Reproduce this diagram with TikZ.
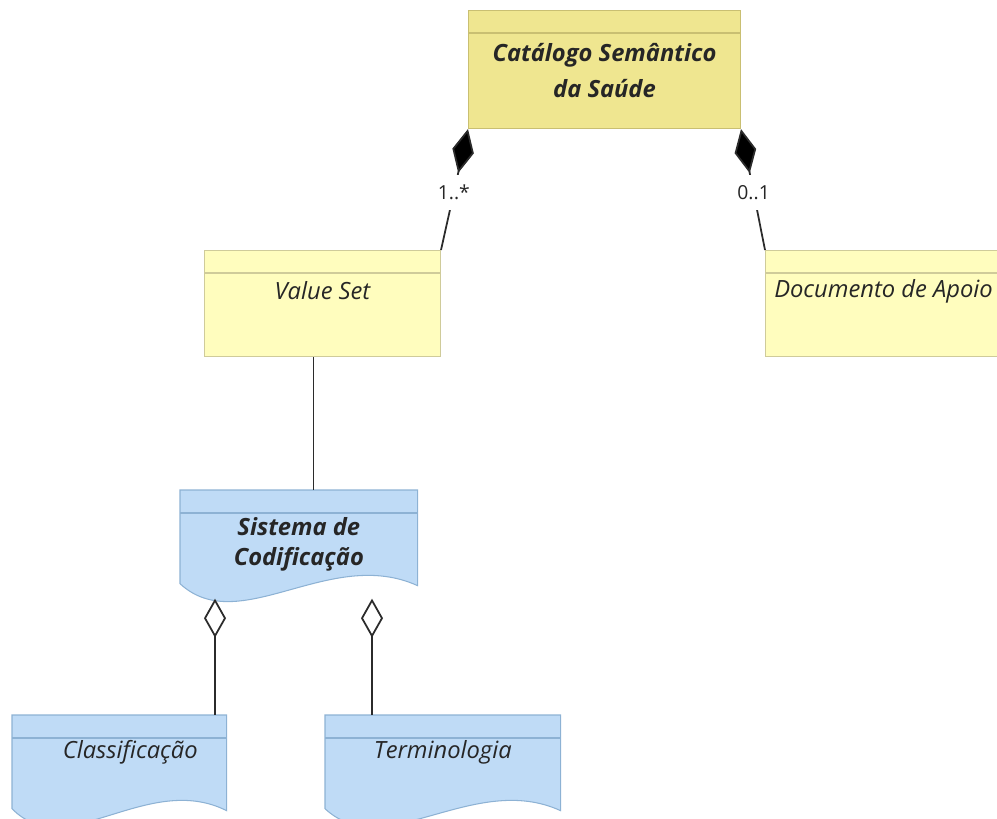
\documentclass[tikz,border=0pt]{standalone}
\usepackage{fontspec}
\setmainfont{Open Sans}
\usepackage{tikz}
\usetikzlibrary{arrows.meta,calc}

\definecolor{catfill}{HTML}{EFE690}
\definecolor{catline}{HTML}{C9BF72}
\definecolor{yfill}{HTML}{FFFDBE}
\definecolor{yline}{HTML}{CFCB9A}
\definecolor{bfill}{HTML}{BFDBF6}
\definecolor{bline}{HTML}{8DB2D4}
\definecolor{connline}{HTML}{2B2B2B}
\definecolor{titletext}{HTML}{262626}

\newcommand{\wavebox}[1]{%
  \filldraw[draw=bline, fill=bfill, line width=0.6pt]
    (#1.north west) -- (#1.north east) -- ($(#1.south east)+(0,2)$)
    .. controls ($(#1.south west)!0.63!(#1.south east)+(0,-38)$)
    and ($(#1.south west)!0.25!(#1.south east)+(0,55)$) .. (#1.south west) -- cycle;
  \draw[draw=bline, line width=0.6pt] ($(#1.north west)+(0,23)$) -- ($(#1.north east)+(0,23)$);
}

\begin{document}
\begin{tikzpicture}[x=0.02cm, y=-0.02cm,
        ybox/.style={draw=yline, fill=yfill, line width=0.6pt, anchor=north west, inner sep=0},
        wbox/.style={anchor=north west, inner sep=0, minimum height=1.86cm},
        title/.style={font=\fontsize{13.5}{20.5}\selectfont\itshape, text=titletext, align=center},
        btitle/.style={title, font=\fontsize{13.5}{20.5}\selectfont\bfseries\itshape},
        conn/.style={draw=connline, line width=1pt},
        comp/.style={conn, {Diamond[length=0.9cm, width=0.44cm, fill=black]}-},
        aggr/.style={conn, {Diamond[open, length=0.78cm, width=0.44cm, fill=white]}-},
        mult/.style={fill=white, text=titletext, font=\fontsize{11}{13}\selectfont, inner ysep=0.2cm, inner xsep=1pt},
    ]
    \useasboundingbox (0,0) rectangle (997,818);

    \node (cat) [ybox, draw=catline, fill=catfill, minimum width=5.44cm, minimum height=2.36cm] at (468,10) {};
    \node (vs) [ybox, minimum width=4.72cm, minimum height=2.12cm] at (204,250) {};
    \node (doc) [ybox, minimum width=4.72cm, minimum height=2.12cm] at (765,250) {};
    \draw[catline, line width=0.6pt] ($(cat.north west)+(0,23)$) -- ($(cat.north east)+(0,23)$);
    \draw[yline, line width=0.6pt] ($(vs.north west)+(0,23)$) -- ($(vs.north east)+(0,23)$);
    \draw[yline, line width=0.6pt] ($(doc.north west)+(0,23)$) -- ($(doc.north east)+(0,23)$);

    \node (sys) [wbox, minimum width=4.74cm] at (180,490) {};
    \node (cls) [wbox, minimum width=4.28cm] at (12,715) {};
    \node (term) [wbox, minimum width=4.7cm] at (325,715) {};
    \wavebox{sys}
    \wavebox{cls}
    \wavebox{term}

    \node (cattitle) [btitle] at ($(cat.north)+(0,61)$) {Catálogo Semântico\\da Saúde};
    \node (vstitle) [title] at ($(vs.north)+(0,41)$) {Value Set};
    \node (doctitle) [title] at ($(doc.north)+(0,41)$) {Documento de Apoio};
    \node (systitle) [btitle, font=\fontsize{13.5}{17}\selectfont\bfseries\itshape] at ($(sys.north)+(0,54)$) {Sistema de\\Codificação};
    \node (clstitle) [title] at ($(cls.north)+(11,37)$) {Classificação};
    \node (termtitle) [title] at ($(term.north)+(0,37)$) {Terminologia};

    \draw[comp] (cat.south west) -- node[mult, pos=0.525] {1..*} (vs.north east);
    \draw[comp] (cat.south east) -- node[mult, pos=0.525] {0..1} (doc.north west);

    \coordinate (vsb) at ($(vs.south)+(-9,0)$);
    \draw[conn] (vsb) -- (vsb |- sys.north);

    \coordinate (ag1) at ($(sys.south west)+(35,15)$);
    \coordinate (ag2) at ($(sys.south west)+(192,15)$);
    \draw[aggr] (ag1) -- (ag1 |- cls.north);
    \draw[aggr] (ag2) -- (ag2 |- term.north);
\end{tikzpicture}
\end{document}
